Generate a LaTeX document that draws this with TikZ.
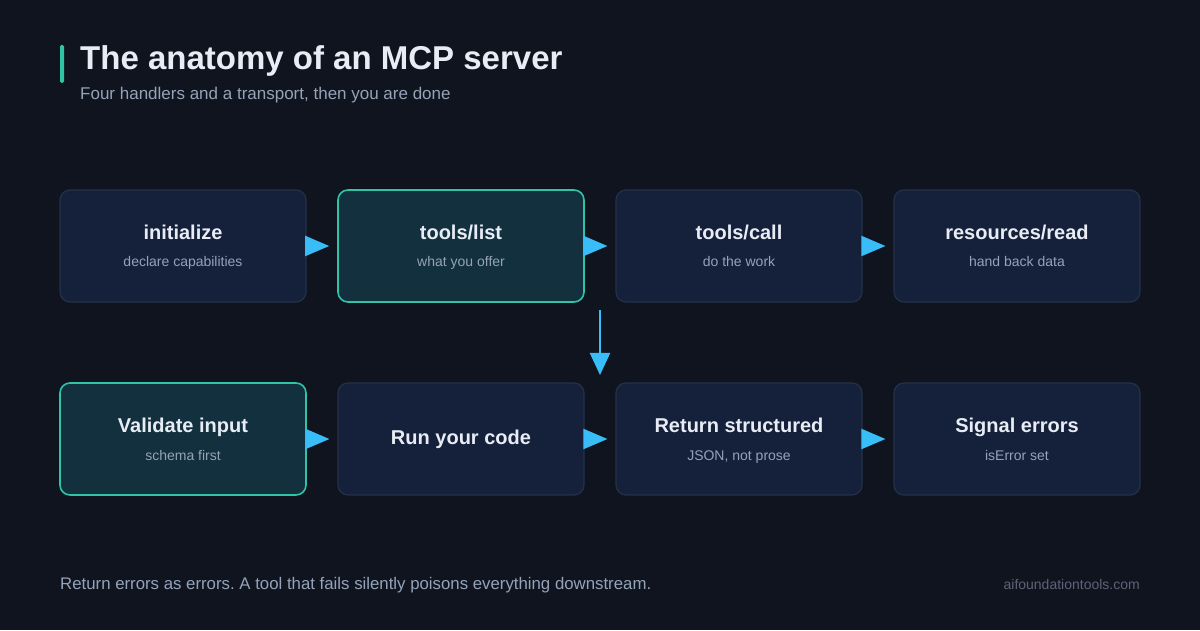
\documentclass[tikz,border=0pt]{standalone}
\usepackage{fontspec}
\setmainfont{Liberation Sans}
\usetikzlibrary{arrows.meta}
\frenchspacing
\definecolor{bg}{HTML}{10141F}
\definecolor{boxf}{HTML}{15203A}
\definecolor{boxd}{HTML}{243149}
\definecolor{hif}{HTML}{13303F}
\definecolor{hid}{HTML}{2EC4A5}
\definecolor{arr}{HTML}{38BDF8}
\definecolor{ttl}{HTML}{E8EDF5}
\definecolor{sub}{HTML}{94A3B8}
\definecolor{url}{HTML}{5B6478}
\begin{document}
\begin{tikzpicture}[x=1pt,y=1pt,
  box/.style={draw=boxd,fill=boxf,line width=1.2pt,rounded corners=10pt,minimum width=246pt,minimum height=112pt,inner sep=0pt},
  hi/.style={box,draw=hid,fill=hif,line width=1.6pt},
  conn/.style={draw=arr,line width=2pt,-{Triangle[length=24pt,width=20pt]},shorten >=8pt},
  t/.style={font=\bfseries\fontsize{20}{23}\selectfont,text=ttl,inner sep=0pt},
  s/.style={font=\fontsize{14}{16}\selectfont,text=sub,inner sep=0pt}]
\fill[bg] (0,0) rectangle (1200,630);
\useasboundingbox (0,0) rectangle (1200,630);
\fill[hid,rounded corners=1.5pt] (60,547) rectangle (64,585);
\node[anchor=base west,inner sep=0pt,font=\bfseries\fontsize{33}{38}\selectfont,text=ttl] (title) at (80,560) {The anatomy of an MCP server};
\node[anchor=base west,inner sep=0pt,font=\fontsize{17}{20}\selectfont,text=sub] (subt) at (80,530) {Four handlers and a transport, then you are done};
% row 1
\node[box] (a) at (183,384) {};
\node[hi] (b) at (461,384) {};
\node[box] (c) at (739,384) {};
\node[box] (d) at (1017,384) {};
% row 2
\node[hi] (e) at (183,191) {};
\node[box] (f) at (461,191) {};
\node[box] (g) at (739,191) {};
\node[box] (h) at (1017,191) {};
\foreach \n/\T/\S in {a/initialize/declare capabilities,b/tools\slash list/what you offer,c/tools\slash call/do the work,d/resources\slash read/hand back data,e/Validate input/schema first,g/Return structured/{JSON, not prose},h/Signal errors/isError set}{
  \node[t,anchor=base] (\n t) at ([yshift=6pt]\n.center) {\T};
  \node[s,anchor=base] (\n s) at ([yshift=-21pt]\n.center) {\S};
}
\node[t] (ft) at (f.center) {Run your code};
\draw[conn] (a) -- (b);
\draw[conn] (b) -- (c);
\draw[conn] (c) -- (d);
\draw[conn] (e) -- (f);
\draw[conn] (f) -- (g);
\draw[conn] (g) -- (h);
\coordinate (ds) at (600,320);
\coordinate (de) at (600,255);
\draw[draw=arr,line width=2pt,-{Triangle[length=22pt,width=20pt]}] (ds) -- (de);
\node[anchor=base west,inner sep=0pt,font=\fontsize{16.8}{20}\selectfont,text=sub] (foot) at (60,41) {Return errors as errors. A tool that fails silently poisons everything downstream.};
\node[anchor=base east,inner sep=0pt,font=\fontsize{14}{17}\selectfont,text=url] (web) at (1140,41) {aifoundationtools.com};
\end{tikzpicture}
\end{document}
